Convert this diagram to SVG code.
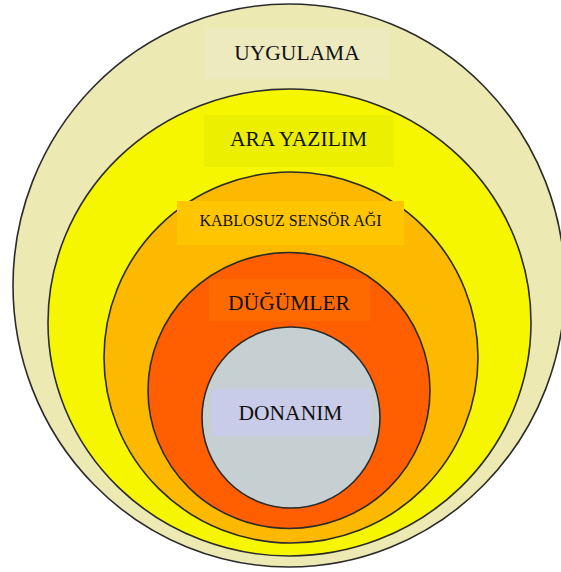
<svg xmlns="http://www.w3.org/2000/svg" width="561" height="572" viewBox="0 0 561 572">
  <style>
    .ring { stroke: #2b2b2b; stroke-width: 1.6; }
    .lbl { font-family: "Liberation Serif", "Times New Roman", serif; fill: #111; text-anchor: middle; }
  </style>
  <rect width="561" height="572" fill="#ffffff"/>

  <!-- outermost layer: application -->
  <g id="uygulama">
    <ellipse class="ring" cx="289" cy="285.5" rx="276" ry="281.5" fill="#ece9b3"/>
    <rect x="206" y="28" width="183" height="51" fill="#eeeac0"/>
    <text class="lbl" x="297" y="60" font-size="21.5">UYGULAMA</text>
  </g>

  <!-- middleware -->
  <g id="ara-yazilim">
    <ellipse class="ring" cx="289.5" cy="322.5" rx="241.5" ry="233.5" fill="#f6f600"/>
    <rect x="204" y="115" width="190" height="52" fill="#ecf000"/>
    <text class="lbl" x="298.5" y="146" font-size="21.5">ARA YAZILIM</text>
  </g>

  <!-- wireless sensor network -->
  <g id="kablosuz-sensor-agi">
    <ellipse class="ring" cx="291" cy="357.5" rx="187" ry="185.5" fill="#fdb800"/>
    <rect x="177" y="201" width="227" height="44" fill="#ffc600"/>
    <text class="lbl" x="290.5" y="225.5" font-size="16">KABLOSUZ SENSÖR AĞI</text>
  </g>

  <!-- nodes -->
  <g id="dugumler">
    <ellipse class="ring" cx="289" cy="390.5" rx="141" ry="138" fill="#ff5f00"/>
    <rect x="209" y="279" width="161" height="42" fill="#ff6a00"/>
    <text class="lbl" x="289" y="310" font-size="21.5">DÜĞÜMLER</text>
  </g>

  <!-- hardware core -->
  <g id="donanim">
    <ellipse class="ring" cx="291" cy="417.5" rx="89" ry="90.5" fill="#c6d0d3"/>
    <rect x="212" y="389" width="158" height="47" fill="#c9cce9"/>
    <text class="lbl" x="290.5" y="419.5" font-size="21.5">DONANIM</text>
  </g>
</svg>
